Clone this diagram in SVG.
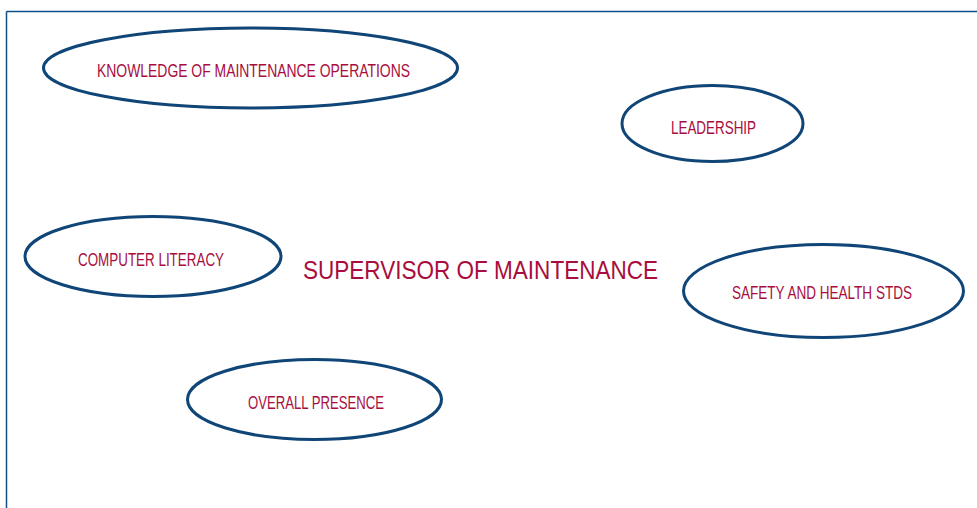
<svg xmlns="http://www.w3.org/2000/svg" width="977" height="508" viewBox="0 0 977 508">
<style>
.node ellipse{fill:#ffffff;stroke:#0f4577;stroke-width:3}
.lbl{font-family:"Liberation Sans",Arial,sans-serif;font-size:17.5px;fill:#a80d3e;text-anchor:middle}
.title{font-family:"Liberation Sans",Arial,sans-serif;font-size:25px;fill:#a80d3e;text-anchor:middle}
</style>
<rect width="977" height="508" fill="#ffffff"/>
<g id="frame">
<line x1="6.5" y1="11.5" x2="977" y2="11.5" stroke="#0f4f8a" stroke-width="1.5"/>
<line x1="6.5" y1="11.5" x2="6.5" y2="508" stroke="#0f4f8a" stroke-width="1.5"/>
</g>
<g id="connectors"></g>
<g id="center">
<text class="title" x="480.5" y="279" textLength="355" lengthAdjust="spacingAndGlyphs">SUPERVISOR OF MAINTENANCE</text>
</g>
<g id="knowledge" class="node">
<ellipse cx="250.5" cy="68" rx="207" ry="40"/>
<text class="lbl" x="253.5" y="77" textLength="313" lengthAdjust="spacingAndGlyphs">KNOWLEDGE OF MAINTENANCE OPERATIONS</text>
</g>
<g id="leadership" class="node">
<ellipse cx="712.5" cy="123.5" rx="90.5" ry="38"/>
<text class="lbl" x="713.5" y="134" textLength="85" lengthAdjust="spacingAndGlyphs">LEADERSHIP</text>
</g>
<g id="computer" class="node">
<ellipse cx="153" cy="256.5" rx="128" ry="40"/>
<text class="lbl" x="151" y="266" textLength="146" lengthAdjust="spacingAndGlyphs">COMPUTER LITERACY</text>
</g>
<g id="safety" class="node">
<ellipse cx="823.5" cy="291" rx="140" ry="46.5"/>
<text class="lbl" x="822" y="298.5" textLength="180" lengthAdjust="spacingAndGlyphs">SAFETY AND HEALTH STDS</text>
</g>
<g id="presence" class="node">
<ellipse cx="314.5" cy="399.5" rx="127" ry="40"/>
<text class="lbl" x="316" y="409" textLength="136" lengthAdjust="spacingAndGlyphs">OVERALL PRESENCE</text>
</g>
</svg>
